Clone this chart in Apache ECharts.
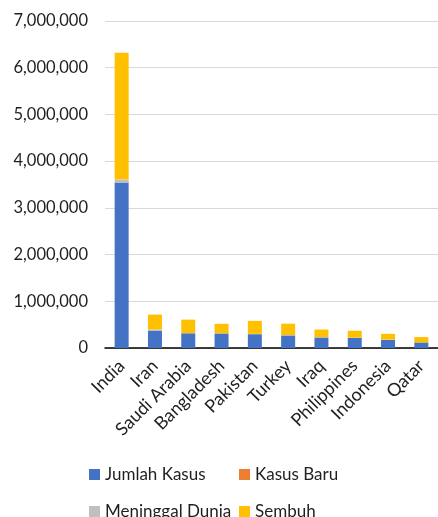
<!DOCTYPE html>
<html><head><meta charset="utf-8">
<script src="https://cdn.jsdelivr.net/npm/echarts@6/dist/echarts.min.js"></script>
<style>html,body{margin:0;padding:0;background:#fff}#c{width:438px;height:517px}</style>
</head><body><div id="c"></div>
<script>
const categories = ['India','Iran','Saudi Arabia','Bangladesh','Pakistan','Turkey','Iraq','Philippines','Indonesia','Qatar'];
const jumlahKasus = [3542733, 373570, 314821, 310822, 295636, 268546, 225106, 217396, 172053, 118707];
const kasusBaru = [0, 0, 0, 0, 0, 0, 0, 0, 0, 0];
const meninggalDunia = [63498, 21462, 3870, 4248, 6298, 6326, 6707, 3520, 7343, 197];
const sembuh = [2713933, 320682, 288477, 203025, 279127, 245540, 163171, 148405, 124185, 115414];
const yTicks = [0, 1000000, 2000000, 3000000, 4000000, 5000000, 6000000, 7000000];

const FONT = 'Lato';
const chart = echarts.init(document.getElementById('c'));
const names = ['Jumlah Kasus','Kasus Baru','Meninggal Dunia','Sembuh'];
const colors = ['#4472C4','#ED7D31','#BFBFBF','#FFC000'];
const datas = [jumlahKasus, kasusBaru, meninggalDunia, sembuh];
const legendPos = [[89,466],[239,466],[89,503],[239,503]];
chart.setOption({
  animation: false,
  color: colors,
  textStyle: {fontFamily: FONT},
  grid: {left: 105, right: -8, top: 21, bottom: 169, containLabel: false},
  legend: names.map((n, i) => ({
    data: [n], left: legendPos[i][0], top: legendPos[i][1],
    icon: 'rect', itemWidth: 11, itemHeight: 11, padding: 0,
    textStyle: {fontFamily: FONT, fontSize: 17, color: '#1f1f1f'}
  })),
  xAxis: {
    type: 'category', data: categories,
    axisLine: {lineStyle: {color: '#000', width: 1.5}},
    axisTick: {show: false},
    axisLabel: {rotate: 45, interval: 0, fontFamily: FONT, fontSize: 18, color: '#1f1f1f', margin: 15}
  },
  yAxis: {
    type: 'value', min: yTicks[0], max: yTicks[yTicks.length-1], interval: 1000000,
    axisLine: {show: false}, axisTick: {show: false},
    splitLine: {lineStyle: {color: '#D9D9D9', width: 1.2}},
    axisLabel: {fontFamily: FONT, fontSize: 16.5, color: '#1f1f1f', margin: 17,
      formatter: v => v.toLocaleString('en-US')}
  },
  series: names.map((n, i) => ({
    name: n, type: 'bar', stack: 'total', data: datas[i], barWidth: 14,
    itemStyle: {color: colors[i]}
  }))
});
</script></body></html>
